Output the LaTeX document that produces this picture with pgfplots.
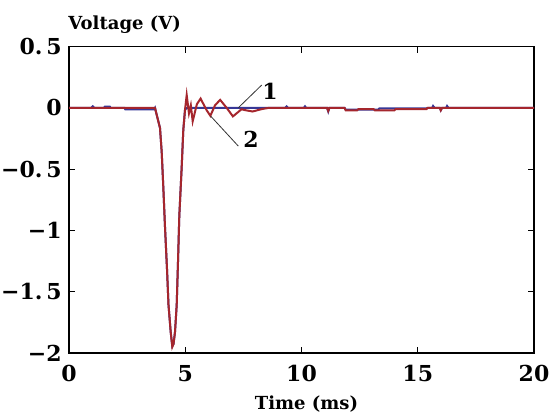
\documentclass[border=0pt]{standalone}
\usepackage{fontspec}
\setmainfont{DejaVu Serif}
\usepackage{pgfplots}
\pgfplotsset{compat=1.18}
\definecolor{curvered}{RGB}{165,38,45}
\definecolor{curveblue}{RGB}{55,55,150}

\begin{document}
\begin{tikzpicture}
\useasboundingbox (-34.5pt,-30.5pt) rectangle (240.5pt,176.5pt);
\begin{axis}[
  at={(0,0)}, anchor=south west,
  scale only axis, width=232.5pt, height=153.25pt,
  xmin=0, xmax=20, ymin=-2, ymax=0.5,
  xtick={0,5,10,15,20},
  ytick={-2,-1.5,-1,-0.5,0,0.5},
  yticklabels={−2,−1.\,5,−1,−0.\,5,0,0.\,5},
  /pgf/number format/assume math mode=true,
  every tick label/.append style={font=\fontsize{11}{13}\selectfont\bfseries},
  yticklabel style={inner sep=0pt, xshift=-3.5pt},
  xticklabel style={yshift=-2.5pt},
  tick align=inside, major tick length=3pt,
  tick style={black, line width=0.6pt},
  axis line style={line width=0.75pt},
  clip=false,
]
% curve 1 (blue)
\addplot[curveblue, line width=1pt] coordinates {
  (0,0)(0.95,0)(1.02,0.012)(1.09,0)(1.5,0)(1.55,0.01)(1.75,0.01)(1.8,0)
  (2.38,0)(2.42,-0.012)(3.66,-0.012)(3.699,0)
  (3.763,-0.051)(3.914,-0.165)(3.987,-0.360)(4.056,-0.646)(4.129,-0.972)
  (4.215,-1.315)(4.280,-1.609)(4.374,-1.829)(4.443,-1.943)(4.495,-1.927)
  (4.559,-1.829)(4.632,-1.609)(4.688,-1.258)(4.744,-0.883)(4.847,-0.483)
  (4.916,-0.181)(4.989,-0.018)(5.06,0)
  (9.3,0)(9.36,0.012)(9.42,0)(10.1,0)(10.15,0.012)(10.2,0)(11.1,0)(11.15,-0.03)(11.2,0)
  (11.85,0)(11.9,-0.015)(13.3,-0.015)(13.35,-0.005)(15.38,-0.005)(15.45,0)
  (15.62,0)(15.66,0.015)(15.72,0)(15.95,0)(15.99,-0.02)(16.05,0)
  (16.22,0)(16.26,0.015)(16.32,0)(20,0)
};
% curve 2 (red)
\addplot[curvered, line width=1pt] coordinates {
  (0,0)(3.699,0)
  (3.763,-0.051)(3.914,-0.165)(3.987,-0.360)(4.056,-0.646)(4.129,-0.972)
  (4.215,-1.315)(4.280,-1.609)(4.374,-1.829)(4.443,-1.950)(4.495,-1.927)
  (4.559,-1.829)(4.632,-1.609)(4.688,-1.258)(4.744,-0.883)(4.847,-0.483)
  (4.916,-0.181)(4.989,-0.018)(5.062,0.104)
  (5.16,-0.045)(5.24,0.02)(5.32,-0.11)(5.50,0.03)(5.66,0.075)(5.92,-0.02)
  (6.08,-0.065)(6.28,0.02)(6.50,0.065)(6.78,0.0)(7.05,-0.07)(7.42,-0.012)
  (7.6,-0.02)(7.9,-0.03)(8.3,-0.01)(8.6,0)
  (11.1,0)(11.15,-0.025)(11.2,0)(11.85,0)(11.9,-0.02)(12.4,-0.02)(12.45,-0.01)
  (13.1,-0.01)(13.15,-0.02)(14.0,-0.02)(14.05,-0.01)(15.38,-0.01)(15.42,0)
  (15.95,0)(15.99,-0.02)(16.05,0)(20,0)
};
% leaders and curve numbers
\draw[black!80, line width=0.4pt] (axis cs:7.28,0.0) -- (axis cs:8.29,0.186);
\draw[black!80, line width=0.4pt] (axis cs:6.09,-0.067) -- (axis cs:7.28,-0.312);
\node[font=\fontsize{11}{13}\selectfont\bfseries] at (axis cs:8.65,0.133) {1};
\node[font=\fontsize{11}{13}\selectfont\bfseries] at (axis cs:7.83,-0.254) {2};
% axis titles
\node[anchor=base west, inner sep=0pt, font=\fontsize{9}{11}\selectfont\bfseries]
  at ([xshift=-0.5pt,yshift=8.5pt]rel axis cs:0,1) {Voltage (V)};
\node[anchor=base, inner sep=0pt, font=\fontsize{9}{11}\selectfont\bfseries]
  at ([xshift=2.5pt,yshift=-28pt]rel axis cs:0.5,0) {Time (ms)};
\end{axis}
\end{tikzpicture}
\end{document}
